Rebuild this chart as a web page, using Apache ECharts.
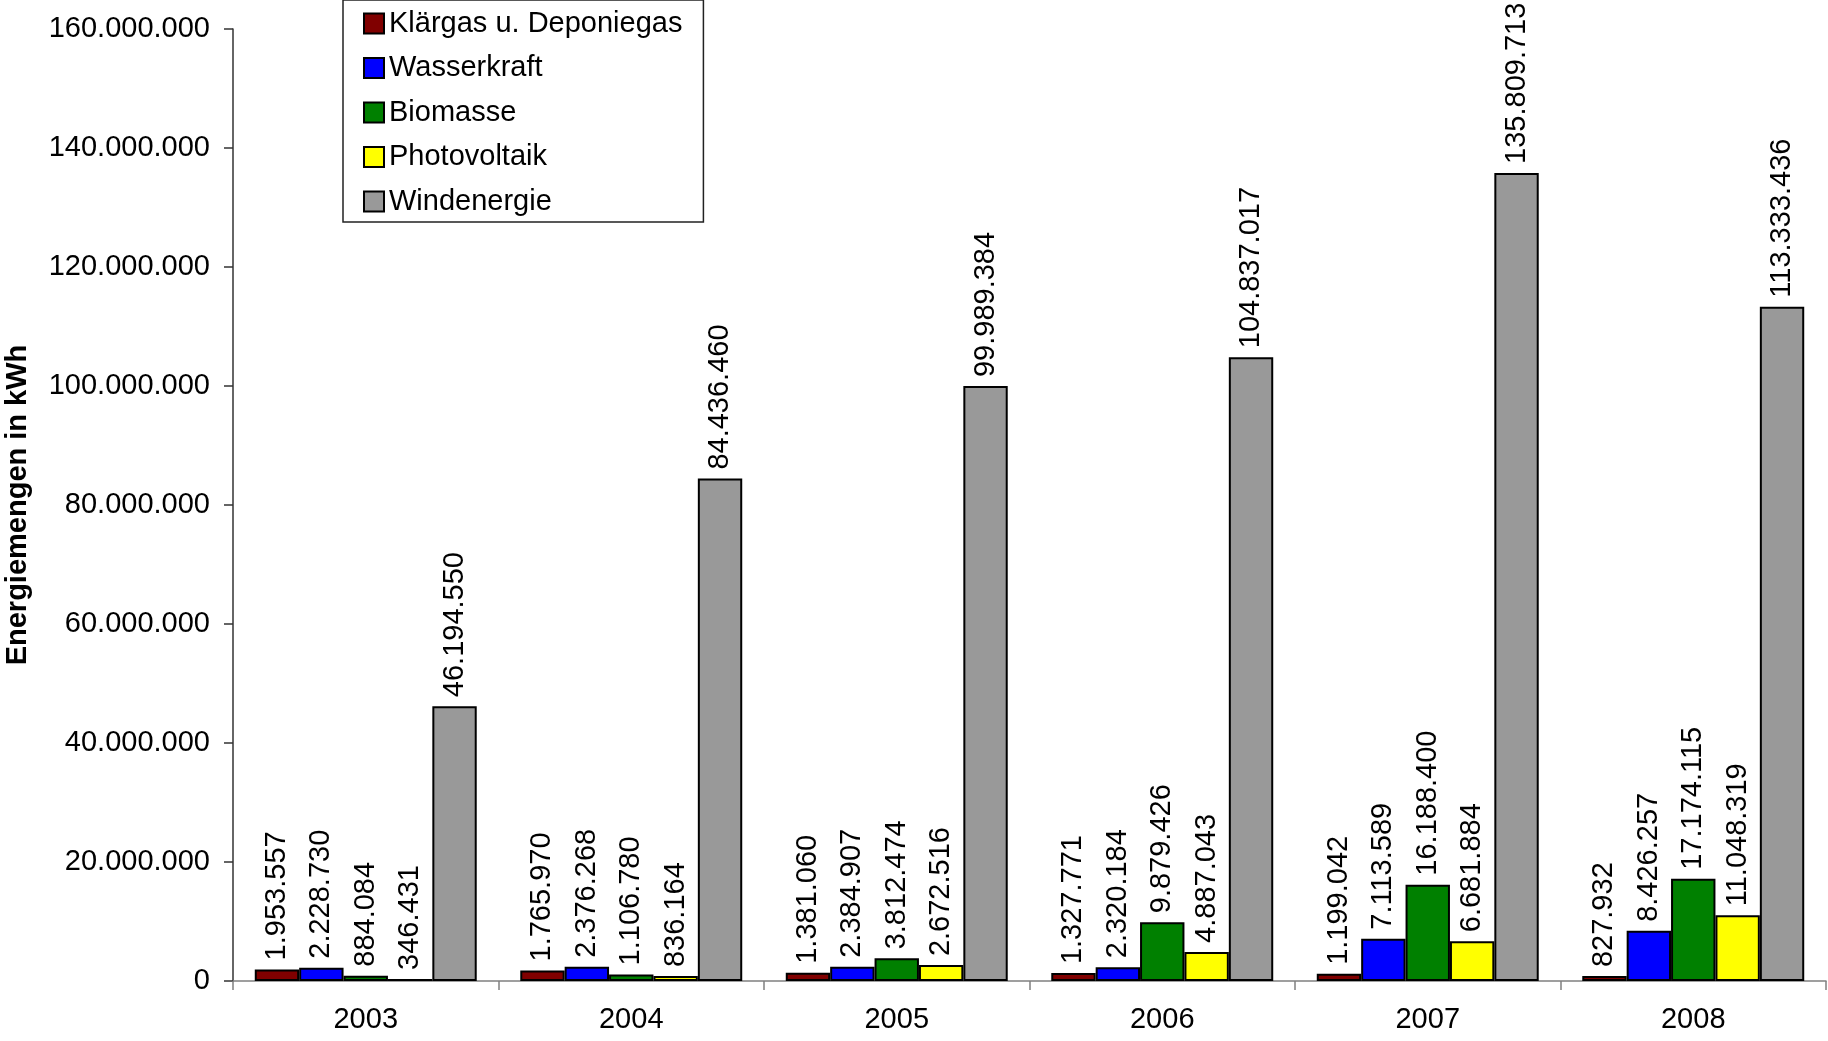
<!DOCTYPE html>
<html>
<head>
<meta charset="utf-8">
<script src="https://cdn.jsdelivr.net/npm/echarts@6/dist/echarts.min.js"></script>
<style>
html,body{margin:0;padding:0;background:#fff;}
#chart{width:1828px;height:1041px;}
</style>
</head>
<body>
<div id="chart"></div>
<script>
const categories = ['2003', '2004', '2005', '2006', '2007', '2008'];
const seriesNames = ['Klärgas u. Deponiegas', 'Wasserkraft', 'Biomasse', 'Photovoltaik', 'Windenergie'];
const klaergas = [1953557, 1765970, 1381060, 1327771, 1199042, 827932];
const wasserkraft = [2228730, 2376268, 2384907, 2320184, 7113589, 8426257];
const biomasse = [884084, 1106780, 3812474, 9879426, 16188400, 17174115];
const photovoltaik = [346431, 836164, 2672516, 4887043, 6681884, 11048319];
const windenergie = [46194550, 84436460, 99989384, 104837017, 135809713, 113333436];
const colors = ['#800000', '#0000FF', '#008000', '#FFFF00', '#999999'];
const yMin = 0, yMax = 160000000, yInterval = 20000000;

function fmt(v) {
  return String(Math.round(v)).replace(/\B(?=(\d{3})+(?!\d))/g, '.');
}
const FONT = '"Liberation Sans", Arial, sans-serif';
const FS = 29;

const dataSets = [klaergas, wasserkraft, biomasse, photovoltaik, windenergie];
const chart = echarts.init(document.getElementById('chart'), null, {renderer: 'canvas'});
chart.setOption({
  animation: false,
  backgroundColor: '#ffffff',
  textStyle: {fontFamily: FONT, color: '#000'},
  grid: {left: 233, right: 2, top: 29, bottom: 60, containLabel: false, outerBoundsMode: 'none'},
  legend: {
    orient: 'vertical',
    left: 343,
    top: 0,
    backgroundColor: '#fff',
    borderColor: '#222',
    borderWidth: 1.5,
    borderRadius: 0,
    padding: [9, 21, 6, 20],
    itemGap: 15.5,
    itemWidth: 20,
    itemHeight: 20,
    icon: 'rect',
    textStyle: {fontSize: FS, fontFamily: FONT, color: '#000'},
    data: seriesNames
  },
  xAxis: {
    type: 'category',
    data: categories,
    axisLine: {lineStyle: {color: '#808080', width: 1.5}},
    axisTick: {show: true, length: 9, alignWithLabel: false, lineStyle: {color: '#808080', width: 1.5}},
    axisLabel: {fontSize: FS, fontFamily: FONT, color: '#000', margin: 24},
    splitLine: {show: false}
  },
  yAxis: {
    type: 'value',
    min: yMin,
    max: yMax,
    interval: yInterval,
    name: 'Energiemengen in kWh',
    nameLocation: 'middle',
    nameGap: 201,
    nameTextStyle: {fontSize: FS, fontWeight: 'bold', fontFamily: FONT, color: '#000'},
    axisLine: {show: true, lineStyle: {color: '#333', width: 1.5}},
    axisTick: {show: true, length: 9, lineStyle: {color: '#333', width: 1.5}},
    axisLabel: {fontSize: FS, fontFamily: FONT, color: '#000', margin: 23, formatter: fmt},
    splitLine: {show: false}
  },
  series: seriesNames.map((name, i) => ({
    name: name,
    type: 'bar',
    data: dataSets[i],
    barGap: 0,
    barCategoryGap: '16.4%',
    itemStyle: {color: colors[i], borderColor: '#000', borderWidth: 2},
    label: {
      show: true,
      position: 'top',
      rotate: 90,
      align: 'left',
      verticalAlign: 'middle',
      distance: 9,
      fontSize: FS,
      fontFamily: FONT,
      color: '#000',
      formatter: p => fmt(p.value)
    }
  }))
});
</script>
</body>
</html>
